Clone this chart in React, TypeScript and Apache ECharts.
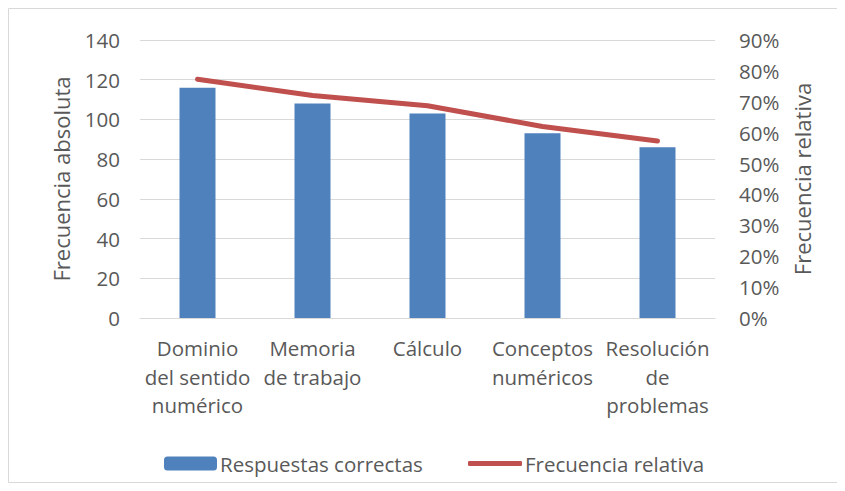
import React, { useEffect, useRef } from "react";
import * as echarts from "echarts";

const categories = [
  "Dominio\ndel sentido\nnumérico",
  "Memoria\nde trabajo",
  "Cálculo",
  "Conceptos\nnuméricos",
  "Resolución\nde\nproblemas",
];
const respuestasCorrectas = [116, 108, 103, 93, 86];
const frecuenciaRelativa = [77.3, 72.0, 68.7, 62.0, 57.3];
const leftAxis = { name: "Frecuencia absoluta", min: 0, max: 140, interval: 20 };
const rightAxis = { name: "Frecuencia relativa", min: 0, max: 90, interval: 10 };

const FONT = "'Open Sans', sans-serif";
const TXT = "#595959";

export default function App() {
  const ref = useRef<HTMLDivElement>(null);
  useEffect(() => {
    if (!ref.current) return;
    const chart = echarts.init(ref.current, null, { renderer: "svg" });
    chart.setOption({
      animation: false,
      textStyle: { fontFamily: FONT, color: TXT },
      graphic: [
        {
          type: "rect",
          shape: { x: 0.5, y: 0.5, width: 829, height: 474 },
          style: { fill: "none", stroke: "#d9d9d9", lineWidth: 1 },
          silent: true,
        },
      ],
      grid: { left: 132, right: 123, top: 32, bottom: 165, containLabel: false },
      legend: [
        {
          data: ["Respuestas correctas"],
          left: 151,
          top: 440,
          itemWidth: 53,
          itemHeight: 14,
          textStyle: { fontFamily: FONT, fontSize: 20.5, color: TXT, padding: [0, 0, 0, -2] },
        },
        {
          data: [{ name: "Frecuencia relativa", icon: "roundRect" }],
          left: 455,
          top: 440,
          itemWidth: 54,
          itemHeight: 5,
          textStyle: { fontFamily: FONT, fontSize: 20.5, color: TXT, padding: [0, 0, 0, -2] },
        },
      ],
      xAxis: {
        type: "category",
        data: categories,
        axisLine: { lineStyle: { color: "#d9d9d9", width: 1 } },
        axisTick: { show: false },
        axisLabel: {
          interval: 0,
          margin: 16,
          fontSize: 20.5,
          lineHeight: 28.5,
          color: TXT,
          fontFamily: FONT,
          align: "center",
        },
      },
      yAxis: [
        {
          type: "value",
          name: leftAxis.name,
          nameLocation: "middle",
          nameRotate: 90,
          nameGap: 68,
          nameTextStyle: { fontSize: 22, color: TXT, fontFamily: FONT },
          min: leftAxis.min,
          max: leftAxis.max,
          interval: leftAxis.interval,
          axisLine: { show: false },
          axisTick: { show: false },
          axisLabel: { margin: 20, fontSize: 20.5, color: TXT, fontFamily: FONT },
          splitLine: { lineStyle: { color: "#d9d9d9", width: 1 } },
        },
        {
          type: "value",
          name: rightAxis.name,
          nameLocation: "middle",
          nameRotate: 90,
          nameGap: 76,
          nameTextStyle: { fontSize: 22, color: TXT, fontFamily: FONT },
          min: rightAxis.min,
          max: rightAxis.max,
          interval: rightAxis.interval,
          position: "right",
          axisLine: { show: false },
          axisTick: { show: false },
          axisLabel: { margin: 24, fontSize: 20.5, color: TXT, fontFamily: FONT, formatter: "{value}%" },
          splitLine: { show: false },
        },
      ],
      series: [
        {
          name: "Respuestas correctas",
          type: "bar",
          data: respuestasCorrectas,
          barWidth: 36,
          itemStyle: { color: "#4f81bd" },
          yAxisIndex: 0,
        },
        {
          name: "Frecuencia relativa",
          type: "line",
          data: frecuenciaRelativa,
          yAxisIndex: 1,
          symbol: "none",
          lineStyle: { color: "#c0504d", width: 5, cap: "round", join: "round" },
          itemStyle: { color: "#c0504d" },
        },
      ],
    });
    return () => chart.dispose();
  }, []);
  return <div ref={ref} style={{ width: 830, height: 475 }} />;
}
